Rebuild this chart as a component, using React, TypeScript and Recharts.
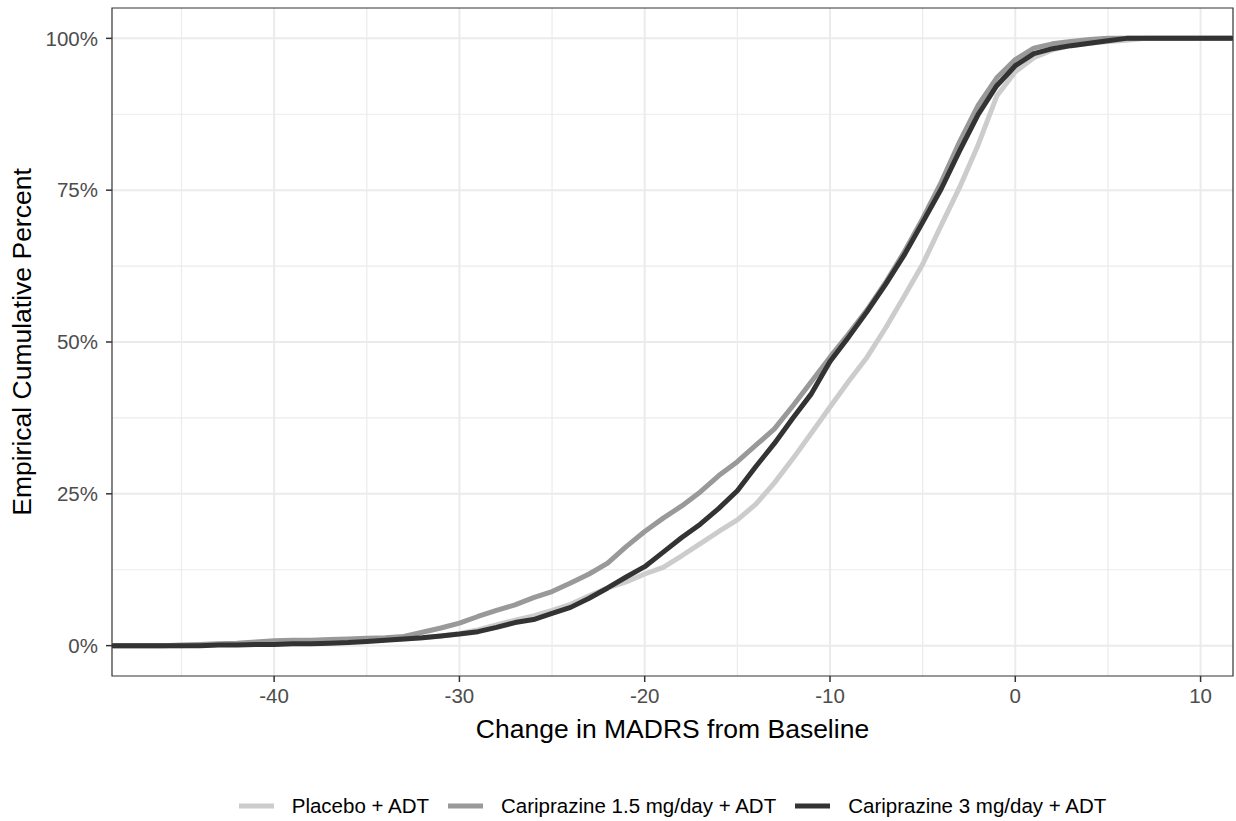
import React from "react";
import {
  LineChart,
  Line,
  XAxis,
  YAxis,
  CartesianGrid,
  Legend,
  ReferenceArea,
} from "recharts";

// x values: change in MADRS from baseline
const xValues = [
  -46, -45, -44, -43, -42, -41, -40, -39, -38, -37,
  -36, -35, -34, -33, -32, -31, -30, -29, -28, -27,
  -26, -25, -24, -23, -22, -21, -20, -19, -18, -17,
  -16, -15, -14, -13, -12, -11, -10, -9, -8, -7,
  -6, -5, -4, -3, -2, -1, 0, 1, 2, 3,
  4, 5, 6, 7, 8, 9,
];

const placebo = [
  0, 0, 0.1, 0.2, 0.2, 0.3, 0.3, 0.4, 0.4, 0.5,
  0.6, 0.8, 1.0, 1.1, 1.3, 1.6, 2.0, 2.6, 3.4, 4.2,
  4.9, 5.8, 6.8, 8.2, 9.5, 10.5, 11.8, 12.9, 14.8, 16.8,
  18.8, 20.7, 23.3, 26.8, 30.8, 35, 39.3, 43.5, 47.5, 52.3,
  57.5, 62.8, 69.2, 75.5, 82.5, 90.5, 94.5, 96.8, 98.1, 98.8,
  99.2, 99.5, 99.7, 100, 100, 100,
];

const cari15 = [
  0, 0.1, 0.2, 0.3, 0.4, 0.6, 0.8, 0.9, 0.9, 1.0,
  1.1, 1.2, 1.3, 1.5, 2.2, 2.9, 3.7, 4.8, 5.8, 6.7,
  7.9, 8.9, 10.3, 11.8, 13.6, 16.3, 18.8, 21, 23, 25.3,
  28, 30.3, 33, 35.7, 39.5, 43.5, 47.5, 51.3, 55.3, 59.8,
  64.8, 70.3, 76.3, 83, 89, 93.5, 96.5, 98.4, 99.1, 99.5,
  99.8, 100, 100, 100, 100, 100,
];

const cari3 = [
  0, 0, 0, 0.1, 0.1, 0.2, 0.2, 0.3, 0.3, 0.4,
  0.5, 0.7, 0.9, 1.1, 1.3, 1.6, 1.9, 2.3, 3.0, 3.8,
  4.3, 5.3, 6.3, 7.8, 9.5, 11.3, 13, 15.4, 17.8, 20,
  22.6, 25.5, 29.5, 33.3, 37.5, 41.5, 46.8, 50.8, 55, 59.5,
  64.3, 69.7, 75.2, 81.5, 87.5, 92.2, 95.5, 97.5, 98.3, 98.8,
  99.2, 99.6, 100, 100, 100, 100,
];

const seriesNames = [
  "Placebo + ADT",
  "Cariprazine 1.5 mg/day + ADT",
  "Cariprazine 3 mg/day + ADT",
];
const seriesColors = ["#cccccc", "#999999", "#333333"];

const X_MIN = -48.75;
const X_MAX = 11.75;
const Y_MIN = -5;
const Y_MAX = 105;

const xTicks = [-40, -30, -20, -10, 0, 10];
const xMinor = [-45, -35, -25, -15, -5, 5];
const yTicks = [0, 25, 50, 75, 100];
const yMinor = [12.5, 37.5, 62.5, 87.5];

// ECDF is padded to the panel edges (as stat_ecdf does with -Inf / Inf)
const data = [
  { x: X_MIN, p: 0, c15: 0, c3: 0 },
  ...xValues.map((x, i) => ({ x, p: placebo[i], c15: cari15[i], c3: cari3[i] })),
  { x: X_MAX, p: 100, c15: 100, c3: 100 },
];

const FONT = "'Liberation Sans', Arial, Helvetica, sans-serif";

const LegendContent = () => (
  <div
    style={{
      height: 40,
      boxSizing: "border-box",
      paddingTop: 10,
      paddingLeft: 112,
      display: "flex",
      justifyContent: "center",
      alignItems: "center",
      fontFamily: FONT,
      fontSize: 20.5,
      color: "#000",
    }}
  >
    {seriesNames.map((name, i) => (
      <div
        key={name}
        style={{ display: "flex", alignItems: "center", marginLeft: i === 0 ? 0 : 19 }}
      >
        <svg width={35} height={20} style={{ display: "block" }}>
          <line x1={0} x2={35} y1={10} y2={10} stroke={seriesColors[i]} strokeWidth={5} />
        </svg>
        <span style={{ marginLeft: 18, whiteSpace: "nowrap", lineHeight: "30px" }}>{name}</span>
      </div>
    ))}
  </div>
);

const YTitle = (props: any) => {
  const vb = props.viewBox || {};
  const cx = vb.x + 31;
  const cy = vb.y + vb.height / 2;
  return (
    <text
      x={cx}
      y={cy}
      transform={`rotate(-90, ${cx}, ${cy})`}
      textAnchor="middle"
      fontFamily={FONT}
      fontSize={26.5}
      fill="#000"
    >
      Empirical Cumulative Percent
    </text>
  );
};

const XTitle = (props: any) => {
  const vb = props.viewBox || {};
  return (
    <text
      x={vb.x + vb.width / 2}
      y={vb.y + 62}
      textAnchor="middle"
      fontFamily={FONT}
      fontSize={26.5}
      fill="#000"
    >
      Change in MADRS from Baseline
    </text>
  );
};

export default function App() {
  return (
    <div style={{ position: "absolute", left: 0, top: 0, width: 1236, height: 821, background: "#fff" }}>
      <LineChart
        width={1236}
        height={821}
        data={data}
        margin={{ top: 8, right: 3, left: 0, bottom: 0 }}
      >
        <CartesianGrid
          stroke="#ebebeb"
          strokeWidth={1.2}
          verticalValues={xMinor}
          horizontalValues={yMinor}
        />
        <CartesianGrid
          stroke="#ebebeb"
          strokeWidth={2}
          verticalValues={xTicks}
          horizontalValues={yTicks}
        />
        <XAxis
          type="number"
          dataKey="x"
          domain={[X_MIN, X_MAX]}
          ticks={xTicks}
          allowDataOverflow
          height={105}
          axisLine={false}
          tickSize={6}
          tickMargin={6}
          tickLine={{ stroke: "#333333", strokeWidth: 1.5 }}
          tick={{ fill: "#4d4d4d", fontSize: 20.5, fontFamily: FONT }}
          label={XTitle}
        />
        <YAxis
          type="number"
          domain={[Y_MIN, Y_MAX]}
          ticks={yTicks}
          allowDataOverflow
          width={112}
          axisLine={false}
          tickSize={6}
          tickMargin={8}
          tickLine={{ stroke: "#333333", strokeWidth: 1.5 }}
          tick={{ fill: "#4d4d4d", fontSize: 20.5, fontFamily: FONT }}
          tickFormatter={(v: number) => `${v}%`}
          label={YTitle}
        />
        <Line
          type="linear"
          dataKey="p"
          name={seriesNames[0]}
          stroke={seriesColors[0]}
          strokeWidth={5}
          dot={false}
          activeDot={false}
          isAnimationActive={false}
          strokeLinejoin="round"
        />
        <Line
          type="linear"
          dataKey="c15"
          name={seriesNames[1]}
          stroke={seriesColors[1]}
          strokeWidth={5}
          dot={false}
          activeDot={false}
          isAnimationActive={false}
          strokeLinejoin="round"
        />
        <Line
          type="linear"
          dataKey="c3"
          name={seriesNames[2]}
          stroke={seriesColors[2]}
          strokeWidth={5}
          dot={false}
          activeDot={false}
          isAnimationActive={false}
          strokeLinejoin="round"
        />
        <ReferenceArea
          x1={X_MIN}
          x2={X_MAX}
          y1={Y_MIN}
          y2={Y_MAX}
          fill="none"
          fillOpacity={0}
          stroke="#333333"
          strokeWidth={1.2}
          ifOverflow="visible"
        />
        <Legend verticalAlign="bottom" content={LegendContent} />
      </LineChart>
    </div>
  );
}
